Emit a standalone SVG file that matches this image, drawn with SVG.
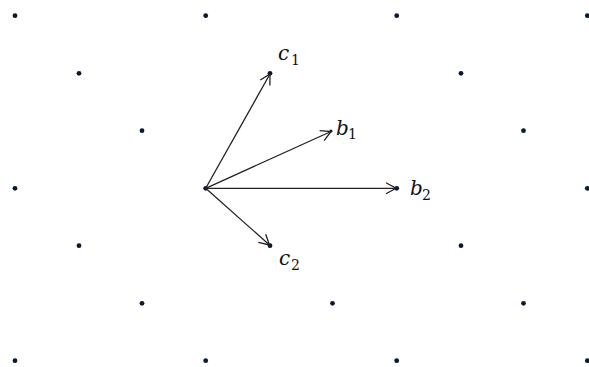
<svg xmlns="http://www.w3.org/2000/svg" width="589" height="367" viewBox="0 0 589 367">
  <style>
    .dot { fill: #0b1a30; }
    .vec { stroke: #222; stroke-width: 1.3; fill: none; }
    .lbl { font-family: "DejaVu Serif", "Liberation Serif", serif; font-style: italic; font-size: 20px; fill: #111; }
    .sub { font-family: "DejaVu Serif", "Liberation Serif", serif; font-style: normal; font-size: 14px; fill: #111; }
  </style>
  <defs>
    <marker id="arr" markerUnits="userSpaceOnUse" markerWidth="14" markerHeight="14" refX="11" refY="6" orient="auto" viewBox="0 0 14 12">
      <path d="M1,0.5 L11,6 L1,11.5" fill="none" stroke="#222" stroke-width="1.3"/>
    </marker>
  </defs>
  <rect width="589" height="367" fill="#ffffff"/>
  <g id="lattice">
    <circle class="dot" cx="15" cy="15.7" r="2.4"/>
    <circle class="dot" cx="205.7" cy="15.7" r="2.4"/>
    <circle class="dot" cx="396.7" cy="15.7" r="2.4"/>
    <circle class="dot" cx="587.3" cy="15.7" r="2.4"/>
    <circle class="dot" cx="79" cy="73.3" r="2.4"/>
    <circle class="dot" cx="270" cy="73.3" r="2.4"/>
    <circle class="dot" cx="461" cy="73.3" r="2.4"/>
    <circle class="dot" cx="142" cy="130.7" r="2.4"/>
    <circle class="dot" cx="331" cy="131" r="1.6"/>
    <circle class="dot" cx="523.5" cy="130.7" r="2.4"/>
    <circle class="dot" cx="15" cy="188.3" r="2.4"/>
    <circle class="dot" cx="205.7" cy="188.3" r="2.4"/>
    <circle class="dot" cx="396.7" cy="188.3" r="2.4"/>
    <circle class="dot" cx="587.3" cy="188.3" r="2.4"/>
    <circle class="dot" cx="79" cy="245.7" r="2.4"/>
    <circle class="dot" cx="270" cy="245.7" r="2.4"/>
    <circle class="dot" cx="461" cy="245.7" r="2.4"/>
    <circle class="dot" cx="142" cy="303.3" r="2.4"/>
    <circle class="dot" cx="332.5" cy="303.3" r="2.4"/>
    <circle class="dot" cx="523.5" cy="303.3" r="2.4"/>
    <circle class="dot" cx="15" cy="360.7" r="2.4"/>
    <circle class="dot" cx="205.7" cy="360.7" r="2.4"/>
    <circle class="dot" cx="396.7" cy="360.7" r="2.4"/>
    <circle class="dot" cx="587.3" cy="360.7" r="2.4"/>
  </g>
  <g id="connectors">
    <line class="vec" x1="205.7" y1="188.3" x2="270" y2="74" marker-end="url(#arr)"/>
    <line class="vec" x1="205.7" y1="188.3" x2="331" y2="131.5" marker-end="url(#arr)"/>
    <line class="vec" x1="205.7" y1="188.3" x2="396" y2="188.3" marker-end="url(#arr)"/>
    <line class="vec" x1="205.7" y1="188.3" x2="269.5" y2="245" marker-end="url(#arr)"/>
  </g>
  <g id="label-c1"><text class="lbl" x="278" y="60">c</text><text class="sub" x="291" y="65">1</text></g>
  <g id="label-b1"><text class="lbl" x="336" y="135">b</text><text class="sub" x="348" y="139">1</text></g>
  <g id="label-b2"><text class="lbl" x="410" y="195">b</text><text class="sub" x="422" y="200">2</text></g>
  <g id="label-c2"><text class="lbl" x="279" y="265">c</text><text class="sub" x="291" y="270">2</text></g>
</svg>
